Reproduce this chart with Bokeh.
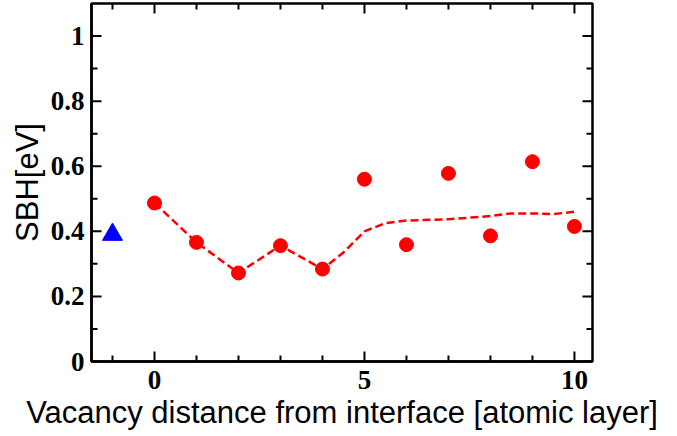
import math
from bokeh.plotting import figure
from bokeh.models import LinearAxis, FixedTicker, CustomJSTickFormatter, Range1d
from bokeh.embed import file_html
from bokeh.resources import INLINE

# SBH for a vacancy placed n atomic layers from the interface
layer = [0, 1, 2, 3, 4, 5, 6, 7, 8, 9, 10]
sbh = [0.487, 0.366, 0.272, 0.356, 0.284, 0.560, 0.359, 0.578, 0.386, 0.614, 0.415]

# defect-free reference
ref_layer = [-1]
ref_sbh = [0.39]

# trend curve
trend_layer = [0, 1, 2, 3, 4, 4.5, 5, 5.5, 6, 7, 8, 8.5, 9, 9.5, 10]
trend_sbh = [0.487, 0.366, 0.272, 0.356, 0.284, 0.335, 0.40, 0.425, 0.433,
             0.437, 0.447, 0.455, 0.455, 0.453, 0.46]

# tick positions
x_major = [0, 5, 10]
x_minor = [-1, 1, 2, 3, 4, 6, 7, 8, 9]
y_major = [0, 0.2, 0.4, 0.6, 0.8, 1.0]
y_minor = [0.1, 0.3, 0.5, 0.7, 0.9]

x_lo, x_hi = -1.5, 10.43
y_lo, y_hi = 0.0, 1.1

p = figure(width=677, height=436, output_backend="svg", toolbar_location=None,
           x_range=Range1d(x_lo, x_hi), y_range=Range1d(y_lo, y_hi),
           x_axis_location=None, y_axis_location=None,
           min_border_left=91, min_border_right=85, min_border_top=3, min_border_bottom=75)
p.grid.visible = False
p.outline_line_color = "black"
p.outline_line_width = 2.5
p.background_fill_color = "white"
p.border_fill_color = "white"

fmt = CustomJSTickFormatter(code="var s = tick.toFixed(1); return s.endsWith('.0') ? s.slice(0, -2) : s;")


def style(ax):
    ax.axis_line_width = 2.5
    ax.axis_line_color = "black"
    ax.major_tick_in = 0
    ax.major_tick_out = 0
    ax.minor_tick_in = 0
    ax.minor_tick_out = 0
    ax.major_tick_line_color = None
    ax.minor_tick_line_color = None
    ax.major_label_text_font = "Liberation Serif"
    ax.major_label_text_font_style = "bold"
    ax.major_label_text_font_size = "27px"
    ax.major_label_text_color = "black"
    ax.axis_label_text_font = "Liberation Sans"
    ax.axis_label_text_font_style = "normal"
    ax.axis_label_text_font_size = "31px"
    ax.axis_label_text_color = "black"


xb = LinearAxis(ticker=FixedTicker(ticks=x_major, minor_ticks=x_minor), formatter=fmt,
                axis_label="Vacancy distance from interface [atomic layer]")
style(xb)
xb.major_label_standoff = 9
xb.axis_label_standoff = 3
p.add_layout(xb, "below")

yl = LinearAxis(ticker=FixedTicker(ticks=y_major, minor_ticks=y_minor), formatter=fmt,
                axis_label="SBH[eV]")
style(yl)
yl.major_label_standoff = 7
yl.axis_label_standoff = 3
p.add_layout(yl, "left")


# inward ticks on all four sides: dash markers centred on the frame edges,
# the outer half is clipped away by the frame
def ticks_x(xs, length):
    n = len(xs)
    p.scatter(xs + xs, [y_lo] * n + [y_hi] * n, marker="dash", size=2 * length,
              angle=math.pi / 2, line_color="black", line_width=2)


def ticks_y(ys, length):
    n = len(ys)
    p.scatter([x_lo] * n + [x_hi] * n, ys + ys, marker="dash", size=2 * length,
              line_color="black", line_width=2)


ticks_x(x_major, 10)
ticks_x(x_minor, 6)
ticks_y(y_major, 10)
ticks_y(y_minor, 6)

p.line(trend_layer, trend_sbh, line_color="#ff0000", line_width=2.5, line_dash="8 4")
p.scatter(layer, sbh, marker="circle", size=14, fill_color="#ff0000", line_color="#ff0000")
p.scatter(ref_layer, ref_sbh, marker="triangle", size=20, fill_color="#0000ff", line_color="#0000ff")

open("out.html", "w").write(file_html(p, INLINE))
